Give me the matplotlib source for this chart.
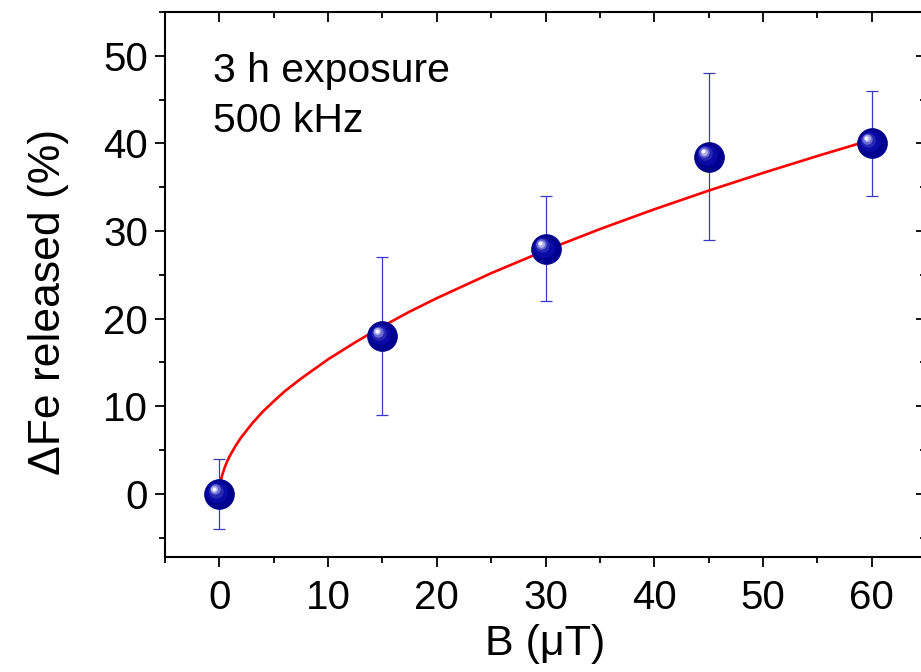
import matplotlib
matplotlib.use("Agg")
import matplotlib.pyplot as plt
from matplotlib.ticker import MultipleLocator
from matplotlib.transforms import offset_copy

plt.rcParams['font.family'] = ['Liberation Sans', 'DejaVu Sans']

# measured data
B_vals = [0, 15, 30, 45, 60]
fe_vals = [0, 18, 28, 38.5, 40]
fe_err = [4, 9, 6, 9.5, 6]

# fitted curve
fit_B = [0, 0.05, 0.1, 0.25, 0.5, 0.75, 1, 1.5, 2, 3, 4, 5, 6, 7.5, 10, 12.5, 15, 17.5, 20, 25,
         30, 35, 40, 45, 50, 55, 60]
fit_fe = [0, 0.88, 1.28, 2.10, 3.05, 3.8, 4.43, 5.5, 6.44, 8.02, 9.4, 10.57, 11.7, 13.15,
          15.36, 17.3, 19.12, 20.8, 22.34, 25.19, 27.80, 30.22, 32.48, 34.61, 36.63, 38.56,
          40.42]

x_ticks = [0, 10, 20, 30, 40, 50, 60]
y_ticks = [0, 10, 20, 30, 40, 50]

fig = plt.figure(figsize=(9.21, 6.72), dpi=100)
ax = fig.add_axes([165/921, 115/672, 761/921, 545/672])

ax.errorbar(B_vals, fe_vals, yerr=fe_err, fmt='none', ecolor='#3a3ac0', elinewidth=0.9,
            capsize=4.5, capthick=0.9, zorder=2)
ax.plot(fit_B, fit_fe, color='#ff0000', lw=1.9, zorder=3)

# sphere-like markers
ax.plot(B_vals, fe_vals, 'o', ms=21.5, color='#000090', mec='#000080', mew=0.5, zorder=4)
layers = [(15, '#0a0aa6', -1.4, 1.4), (10.5, '#2828b4', -2.4, 2.4), (7.5, '#6a6ad0', -3.2, 3.2),
          (5, '#b0b0ec', -3.6, 3.6), (2.8, '#f6f6ff', -3.8, 3.8)]
for ms, col, dx, dy in layers:
    tr = offset_copy(ax.transData, fig=fig, x=dx, y=dy, units='points')
    ax.plot(B_vals, fe_vals, 'o', ms=ms, color=col, mew=0, transform=tr, zorder=5)

ax.set_xlim(-5, 65)
ax.set_ylim(-7.2, 55)
ax.set_xticks(x_ticks)
ax.set_yticks(y_ticks)
ax.xaxis.set_minor_locator(MultipleLocator(5))
ax.yaxis.set_minor_locator(MultipleLocator(5))

ax.tick_params(axis='both', which='major', labelsize=29, length=7, width=1.3, direction='out')
ax.tick_params(axis='x', which='major', pad=9)
ax.tick_params(axis='y', which='major', pad=5)
ax.tick_params(axis='both', which='minor', length=4.5, width=1.3, direction='out')
ax.tick_params(axis='x', which='both', top=True)
ax.tick_params(axis='y', which='both', right=True)
for t in ax.xaxis.get_major_ticks() + ax.xaxis.get_minor_ticks():
    t.tick2line.set_marker(matplotlib.lines.TICKDOWN)
for t in ax.yaxis.get_major_ticks() + ax.yaxis.get_minor_ticks():
    t.tick2line.set_marker(matplotlib.lines.TICKLEFT)

for s in ax.spines.values():
    s.set_linewidth(1.5)

ax.set_xlabel('B (μT)', fontsize=31, labelpad=5)
ax.set_ylabel('ΔFe released (%)', fontsize=32, labelpad=25)
ax.yaxis.label.set_y(0.468)

ax.text(-0.6, 47.0, '3 h exposure', fontsize=29.5, va='baseline', ha='left')
ax.text(-0.6, 41.3, '500 kHz', fontsize=29.5, va='baseline', ha='left')

fig.savefig('out.png', dpi=100)
